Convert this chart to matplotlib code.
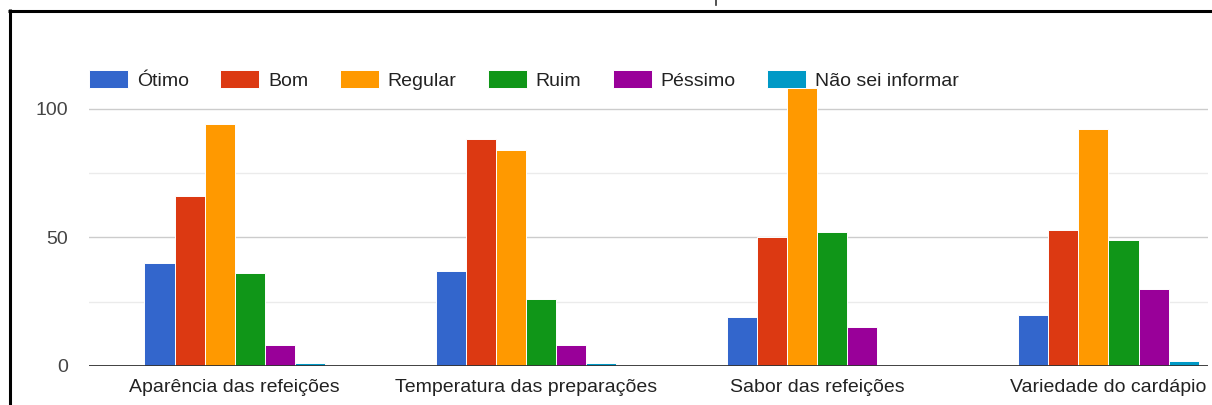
import matplotlib
matplotlib.use("Agg")
import matplotlib.pyplot as plt
from matplotlib.lines import Line2D
from matplotlib.ticker import FixedLocator
import numpy as np

plt.rcParams['font.family'] = ['Liberation Sans', 'DejaVu Sans']

# Survey answers per evaluated item
categories = ["Aparência das refeições", "Temperatura das preparações",
              "Sabor das refeições", "Variedade do cardápio"]
series_names = ["Ótimo", "Bom", "Regular", "Ruim", "Péssimo", "Não sei informar"]
otimo = [40, 37, 19, 20]
bom = [66, 88, 50, 53]
regular = [94, 84, 108, 92]
ruim = [36, 26, 52, 49]
pessimo = [8, 8, 15, 30]
nao_sei = [1, 1, 0, 2]
series_values = [otimo, bom, regular, ruim, pessimo, nao_sei]
series_colors = ["#3366cc", "#dc3912", "#ff9900", "#109618", "#990099", "#0099c6"]
y_ticks = [0, 50, 100]
y_minor = [25, 75]

W, H = 1212, 405
fig = plt.figure(figsize=(W / 100, H / 100), dpi=100)
fig.patch.set_facecolor("white")

# plot area in pixel terms
left_px, right_px = 88.5, 1208
base_px, top_px = 366, 366 - 125 * 2.575
ax = fig.add_axes([left_px / W, (H - base_px) / H,
                   (right_px - left_px) / W, (base_px - top_px) / H])

x = np.arange(len(categories))
bar_w = 0.1034
n = len(series_names)
for i, (name, vals, col) in enumerate(zip(series_names, series_values, series_colors)):
    ax.bar(x + (i - (n - 1) / 2) * bar_w, vals, width=bar_w, color=col,
           edgecolor="white", linewidth=0.7, label=name, zorder=3)

ax.set_xlim(-0.5024, 3.342)
ax.set_ylim(0, 125)

ax.yaxis.set_major_locator(FixedLocator(y_ticks))
ax.yaxis.set_minor_locator(FixedLocator(y_minor))
ax.grid(axis="y", which="major", color="#cccccc", linewidth=1.0, zorder=0)
ax.grid(axis="y", which="minor", color="#ebebeb", linewidth=1.0, zorder=0)
ax.axhline(0, color="#333333", linewidth=1.3, zorder=4)

ax.set_xticks(x)
ax.set_xticklabels(categories, fontsize=14, color="#222222")
ax.tick_params(axis="x", length=0, pad=9)
ax.tick_params(axis="y", which="both", length=0, pad=14.5, labelsize=14,
               labelcolor="#444444")
for s in ax.spines.values():
    s.set_visible(False)

leg = ax.legend(loc="center left", bbox_to_anchor=(89 / W, 1 - 80 / H),
                bbox_transform=fig.transFigure, ncol=6, frameon=False,
                fontsize=14, handlelength=2.0, handleheight=0.98,
                handletextpad=0.46, columnspacing=1.62, borderpad=0,
                borderaxespad=0)
for t in leg.get_texts():
    t.set_color("#222222")

# outer black frame (top and left edges)
fig.add_artist(Line2D([8 / W, 1.0], [1 - 10.5 / H, 1 - 10.5 / H],
                      transform=fig.transFigure, color="black", linewidth=2.2,
                      solid_capstyle="butt"))
fig.add_artist(Line2D([9.5 / W, 9.5 / W], [0.0, 1 - 9 / H],
                      transform=fig.transFigure, color="black", linewidth=2.2,
                      solid_capstyle="butt"))
# stroke peeking in above the frame
fig.add_artist(Line2D([716 / W, 716 / W], [1.0, 1 - 5 / H],
                      transform=fig.transFigure, color="#333333", linewidth=1.2))

fig.savefig("out.png", dpi=100, facecolor="white")
